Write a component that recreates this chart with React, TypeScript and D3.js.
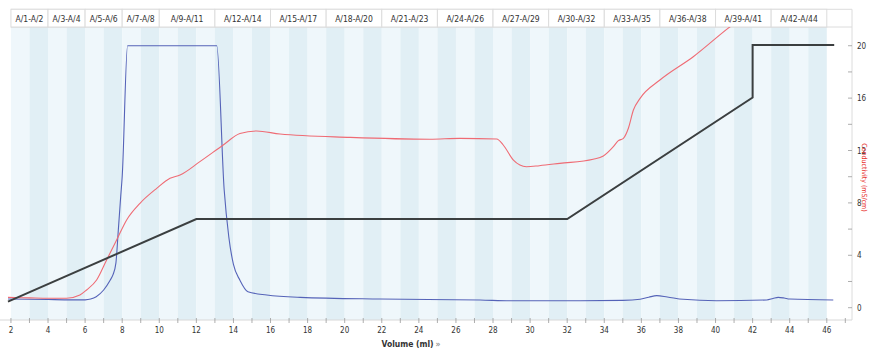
import React from "react";
import * as d3 from "d3";

// Fraction groups shown in the header row (first and last fraction of each group)
const groupFirst = [1, 3, 5, 7, 9, 12, 15, 18, 21, 24, 27, 30, 33, 36, 39, 42];
const groupLast = [2, 4, 6, 8, 11, 14, 17, 20, 23, 26, 29, 32, 35, 38, 41, 44];
const groupLabels = [
  "A/1-A/2", "A/3-A/4", "A/5-A/6", "A/7-A/8", "A/9-A/11", "A/12-A/14",
  "A/15-A/17", "A/18-A/20", "A/21-A/23", "A/24-A/26", "A/27-A/29",
  "A/30-A/32", "A/33-A/35", "A/36-A/38", "A/39-A/41", "A/42-A/44",
];
// Each fraction is 1 ml, fraction 1 starts at 2 ml
const fractionCount = 44;
const fractionStart = 2;

const xTickValues = d3.range(2, 48, 1);
const xLabelValues = d3.range(2, 47, 2);
const yTickValues = d3.range(0, 21, 2);
const yLabelValues = [0, 4, 8, 12, 16, 20];

// UV absorbance trace
const uvVolume = [1.84, 4, 5, 6, 6.3, 6.6, 7, 7.35, 7.5, 7.66, 7.79, 7.92, 8.0, 8.29, 13.1, 13.5, 13.75, 14.0, 14.35, 14.78, 15.8, 17.6, 21.9, 27.3, 28.9, 32.7, 35.0, 35.93, 36.4, 36.83, 37.4, 38.26, 40.06, 42.76, 43.1, 43.38, 43.7, 44.0, 46.35];
const uvValue = [0.66, 0.62, 0.6, 0.6, 0.66, 0.84, 1.35, 2.1, 2.5, 3.4, 5.9, 8.5, 10.0, 20.0, 20.0, 9.0, 5.4, 3.3, 2.1, 1.22, 0.97, 0.79, 0.66, 0.59, 0.53, 0.53, 0.56, 0.64, 0.8, 0.92, 0.82, 0.64, 0.53, 0.59, 0.7, 0.79, 0.74, 0.66, 0.59];

// Conductivity trace
const condVolume = [1.84, 3, 4, 5.0, 5.72, 6.08, 6.62, 7.16, 7.7, 8.24, 8.96, 9.86, 10.58, 11.12, 12.19, 13.45, 14.35, 15.25, 16.51, 20.3, 24.6, 26.2, 28.2, 28.55, 29.1, 29.45, 29.8, 30.5, 31.6, 33.4, 33.95, 34.49, 34.76, 35.03, 35.3, 35.57, 35.93, 37.0, 38.8, 40.74, 41.5];
const condValue = [0.79, 0.75, 0.72, 0.72, 0.97, 1.35, 2.11, 3.64, 5.17, 6.7, 7.97, 9.11, 9.88, 10.13, 11.15, 12.42, 13.3, 13.49, 13.26, 13.0, 12.86, 12.93, 12.88, 12.42, 11.27, 10.89, 10.76, 10.84, 11.02, 11.33, 11.58, 12.29, 12.75, 12.93, 13.7, 15.09, 15.98, 17.38, 19.16, 21.4, 22.2];

// Gradient program
const gradVolume = [1.84, 12, 32, 42, 42, 46.4];
const gradValue = [0.46, 6.77, 6.77, 16.05, 20.05, 20.05];

const W = 870;
const H = 349;
const plotLeft = 0;
const plotRight = 852;
const plotTop = 27;
const plotBottom = 320;
const headerTop = 9.3;

const font = "'Liberation Sans Narrow', 'DejaVu Sans Condensed', 'Arial Narrow', sans-serif";

export default function App() {
  const x = d3.scaleLinear().domain([1.41, 47.36]).range([plotLeft, plotRight]);
  const y = d3.scaleLinear().domain([-0.94, 21.43]).range([plotBottom, plotTop]);

  const smooth = d3
    .line<[number, number]>()
    .x((d) => x(d[0]))
    .y((d) => y(d[1]))
    .curve(d3.curveMonotoneX);
  const straight = d3
    .line<[number, number]>()
    .x((d) => x(d[0]))
    .y((d) => y(d[1]));

  const uvPts = uvVolume.map((v, i) => [v, uvValue[i]] as [number, number]);
  const condPts = condVolume.map((v, i) => [v, condValue[i]] as [number, number]);
  const gradPts = gradVolume.map((v, i) => [v, gradValue[i]] as [number, number]);

  const fractions = d3.range(1, fractionCount + 1);
  const fx0 = (f: number) => x(fractionStart + f - 1);
  const fx1 = (f: number) => x(fractionStart + f);

  return (
    <svg
      width={W}
      height={H}
      style={{ position: "absolute", left: 0, top: 0, background: "#fff" }}
      fontFamily={font}
    >
      <defs>
        <clipPath id="plotClip">
          <rect x={plotLeft} y={plotTop} width={plotRight - plotLeft} height={plotBottom - plotTop} />
        </clipPath>
      </defs>

      {/* fraction bands */}
      {fractions.map((f) => (
        <rect
          key={f}
          x={fx0(f)}
          y={plotTop}
          width={fx1(f) - fx0(f)}
          height={plotBottom - plotTop}
          fill={f % 2 === 1 ? "#eff7fb" : "#e1eff5"}
        />
      ))}

      {/* header row with fraction groups */}
      <line x1={fx0(1)} x2={plotRight} y1={headerTop} y2={headerTop} stroke="#dcdcdc" />
      <line x1={fx0(1)} x2={plotRight} y1={plotTop} y2={plotTop} stroke="#dcdcdc" />
      {groupLabels.map((lab, i) => {
        const a = fx0(groupFirst[i]);
        const b = fx1(groupLast[i]);
        return (
          <g key={lab}>
            <rect x={a} y={headerTop} width={b - a} height={plotTop - headerTop} fill="#fff" stroke="#dcdcdc" strokeWidth={1} />
            <text x={(a + b) / 2} y={21.5} textAnchor="middle" fontSize={8.5} fill="#333">
              {lab}
            </text>
          </g>
        );
      })}
      <line x1={plotRight} x2={plotRight} y1={headerTop} y2={plotBottom} stroke="#dcdcdc" />

      {/* traces */}
      <g clipPath="url(#plotClip)">
        <path d={smooth(uvPts) ?? ""} fill="none" stroke="#5563b8" strokeWidth={1.1} />
        <path d={smooth(condPts) ?? ""} fill="none" stroke="#ef6b74" strokeWidth={1.1} />
        <path d={straight(gradPts) ?? ""} fill="none" stroke="#3b3f40" strokeWidth={2} />
      </g>

      {/* x axis */}
      <line x1={plotLeft} x2={plotRight} y1={plotBottom} y2={plotBottom} stroke="#d8d8d8" />
      {xTickValues.map((t) => (
        <line key={t} x1={x(t)} x2={x(t)} y1={plotBottom - 2} y2={plotBottom + 3} stroke="#999" strokeWidth={0.8} />
      ))}
      {xLabelValues.map((t) => (
        <text key={t} x={x(t)} y={333} textAnchor="middle" fontSize={8} fill="#333">
          {t}
        </text>
      ))}
      <text x={411} y={347} textAnchor="middle" fontSize={8.5} fontWeight="bold" fill="#333">
        Volume (ml)
        <tspan fill="#999" dx={2}>»</tspan>
      </text>

      {/* right axis */}
      {yTickValues.map((t) => (
        <line key={t} x1={plotRight - 4} x2={plotRight} y1={y(t)} y2={y(t)} stroke="#999" strokeWidth={0.8} />
      ))}
      {yLabelValues.map((t) => (
        <text key={t} x={857} y={y(t) + 3} textAnchor="start" fontSize={8} fill="#333">
          {t}
        </text>
      ))}
      <text
        transform={`translate(863.5, ${(128 + 227) / 2}) rotate(90)`}
        textAnchor="middle"
        dominantBaseline="middle"
        fontSize={7}
        fill="#e8332f"
      >
        Conductivity (mS/cm)
      </text>
    </svg>
  );
}
